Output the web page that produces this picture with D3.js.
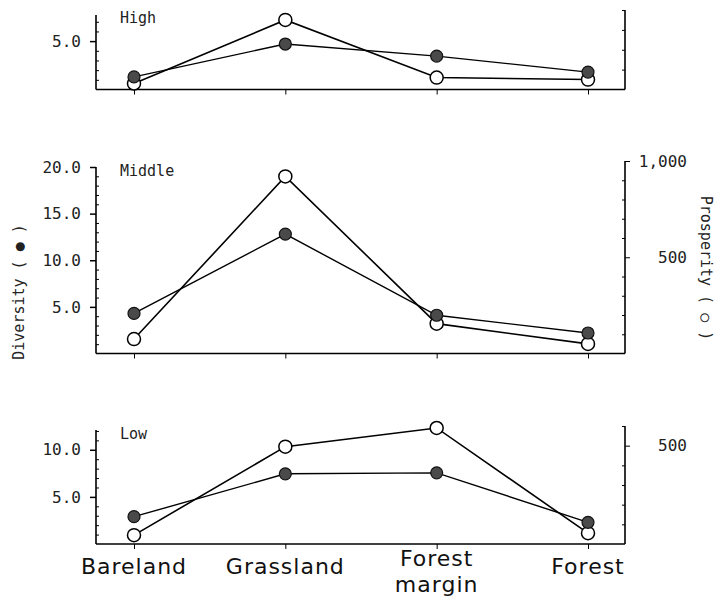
<!DOCTYPE html>
<html>
<head>
<meta charset="utf-8">
<script src="https://cdn.jsdelivr.net/npm/d3@7"></script>
<style>
  body { margin: 0; background: #fff; }
  .tick text { font-family: "DejaVu Sans Mono", monospace; font-size: 16px; fill: #222; }
  .catText { font-family: "DejaVu Sans", sans-serif; font-size: 22px; letter-spacing: 1px; fill: #111; }
  .panelText { font-family: "DejaVu Sans Mono", monospace; font-size: 15px; fill: #222; }
  .axisText { font-family: "DejaVu Sans Mono", monospace; font-size: 15px; fill: #222; }
</style>
</head>
<body>
<div id="chart"></div>
<script>
// categories along the x axis
var categories = ["Bareland", "Grassland", "Forest margin", "Forest"];
var panelNames = ["High", "Middle", "Low"];

// diversity (filled circles, left axis)
var diversityHigh = [1.3, 4.7, 3.45, 1.8];
var diversityMiddle = [4.3, 12.8, 4.1, 2.2];
var diversityLow = [2.9, 7.45, 7.55, 2.3];

// prosperity (open circles, right axis)
var prosperityHigh = [30, 350, 60, 50];
var prosperityMiddle = [75, 920, 155, 50];
var prosperityLow = [45, 495, 590, 55];

// tick labels
var leftLabelsHigh = [5];
var leftLabelsMiddle = [5, 10, 15, 20];
var leftLabelsLow = [5, 10];
var rightLabelsMiddle = [500, 1000];
var rightLabelsLow = [500];

var svgWidth = 715;
var svgHeight = 599;

var svg = d3.select("#chart")
  .append("svg")
  .attr("width", svgWidth)
  .attr("height", svgHeight);

var xLeft = 96;
var xRight = 625;

var xScale = d3.scalePoint()
  .domain(categories)
  .range([134, 588]);

// one entry per panel: where it sits and how far each axis goes
var panels = [
  { name: panelNames[0], div: diversityHigh, pro: prosperityHigh,
    base: 89.5, lMax: 7.7, lTop: 15, rMax: 400, rTop: 10,
    lLabels: leftLabelsHigh, rLabels: [], labelY: 23 },
  { name: panelNames[1], div: diversityMiddle, pro: prosperityMiddle,
    base: 353.5, lMax: 20, lTop: 167, rMax: 1000, rTop: 161,
    lLabels: leftLabelsMiddle, rLabels: rightLabelsMiddle, labelY: 176 },
  { name: panelNames[2], div: diversityLow, pro: prosperityLow,
    base: 544, lMax: 12.1, lTop: 430, rMax: 600, rTop: 426,
    lLabels: leftLabelsLow, rLabels: rightLabelsLow, labelY: 439 }
];

panels.forEach(function (p, pi) {
  var yLeft = d3.scaleLinear().domain([0, p.lMax]).range([p.base, p.lTop]);
  var yRight = d3.scaleLinear().domain([0, p.rMax]).range([p.base, p.rTop]);

  var g = svg.append("g");

  // left axis: minor ticks every 1.0 pointing inward
  var minorLeft = d3.range(1, Math.floor(p.lMax) + 1).filter(d => d % 5 !== 0);
  g.append("g")
    .attr("transform", `translate(${xLeft},0)`)
    .call(d3.axisLeft(yLeft).tickValues(minorLeft).tickSize(-3).tickFormat(""))
    .call(a => a.select(".domain").remove());

  // left axis: labelled ticks pointing outward
  g.append("g")
    .attr("transform", `translate(${xLeft},0)`)
    .call(d3.axisLeft(yLeft).tickValues(p.lLabels).tickSize(6).tickPadding(9)
      .tickFormat(d3.format(".1f")))
    .call(a => a.select(".domain").remove())
    .call(a => a.selectAll("line").attr("stroke-width", 1.5));

  g.append("line")
    .attr("x1", xLeft).attr("x2", xLeft)
    .attr("y1", yLeft(0)).attr("y2", yLeft(p.lMax))
    .attr("stroke", "#000").attr("stroke-width", 1.6);

  // right axis: ticks every 100
  var minorRight = d3.range(100, p.rMax + 1, 100).filter(d => p.rLabels.indexOf(d) < 0);
  g.append("g")
    .attr("transform", `translate(${xRight},0)`)
    .call(d3.axisRight(yRight).tickValues(minorRight).tickSize(-3).tickFormat(""))
    .call(a => a.select(".domain").remove());

  g.append("g")
    .attr("transform", `translate(${xRight},0)`)
    .call(d3.axisRight(yRight).tickValues(p.rLabels).tickSize(5).tickFormat(d3.format(",")))
    .call(a => a.select(".domain").remove())
    .call(a => a.selectAll("text").attr("text-anchor", "end").attr("x", 62));

  g.append("line")
    .attr("x1", xRight).attr("x2", xRight)
    .attr("y1", yRight(0)).attr("y2", yRight(p.rMax))
    .attr("stroke", "#000").attr("stroke-width", 1.6);

  // baseline with category ticks
  g.append("line")
    .attr("x1", xLeft).attr("x2", xRight)
    .attr("y1", p.base).attr("y2", p.base)
    .attr("stroke", "#000").attr("stroke-width", 1.6);

  g.append("g")
    .attr("transform", `translate(0,${p.base})`)
    .call(d3.axisBottom(xScale).tickSize(5).tickSizeOuter(0).tickFormat(""))
    .call(a => a.select(".domain").remove());

  // category names only under the last panel
  if (pi === panels.length - 1) {
    categories.forEach(function (c) {
      var words = c.split(" ");
      words.forEach(function (w, i) {
        g.append("text")
          .attr("class", "catText")
          .attr("text-anchor", "middle")
          .attr("x", xScale(c))
          .attr("y", words.length > 1 ? 566 + i * 26 : 574)
          .text(w);
      });
    });
  }

  // panel name
  g.append("text")
    .attr("class", "panelText")
    .attr("x", 120)
    .attr("y", p.labelY)
    .text(p.name);

  // prosperity line and open circles
  var proLine = d3.line()
    .x((d, i) => xScale(categories[i]))
    .y(d => yRight(d));

  var divLine = d3.line()
    .x((d, i) => xScale(categories[i]))
    .y(d => yLeft(d));

  g.append("path")
    .attr("d", proLine(p.pro))
    .attr("fill", "none").attr("stroke", "#000").attr("stroke-width", 1.6);

  g.append("path")
    .attr("d", divLine(p.div))
    .attr("fill", "none").attr("stroke", "#000").attr("stroke-width", 1.4);

  g.selectAll(".openDot")
    .data(p.pro)
    .enter()
    .append("circle")
    .attr("cx", (d, i) => xScale(categories[i]))
    .attr("cy", d => yRight(d))
    .attr("r", 6.5)
    .attr("fill", "#fff")
    .attr("stroke", "#000")
    .attr("stroke-width", 1.5);

  g.selectAll(".fullDot")
    .data(p.div)
    .enter()
    .append("circle")
    .attr("cx", (d, i) => xScale(categories[i]))
    .attr("cy", d => yLeft(d))
    .attr("r", 6)
    .attr("fill", "#4a4a4a")
    .attr("stroke", "#111")
    .attr("stroke-width", 1.2);
});

// axis titles
svg.append("text")
  .attr("class", "axisText")
  .attr("transform", "translate(24,292) rotate(-90)")
  .attr("text-anchor", "middle")
  .text("Diversity ( \u25CF )");

svg.append("text")
  .attr("class", "axisText")
  .attr("transform", "translate(701,268) rotate(90)")
  .attr("text-anchor", "middle")
  .text("Prosperity ( \u25CB )");
</script>
</body>
</html>
